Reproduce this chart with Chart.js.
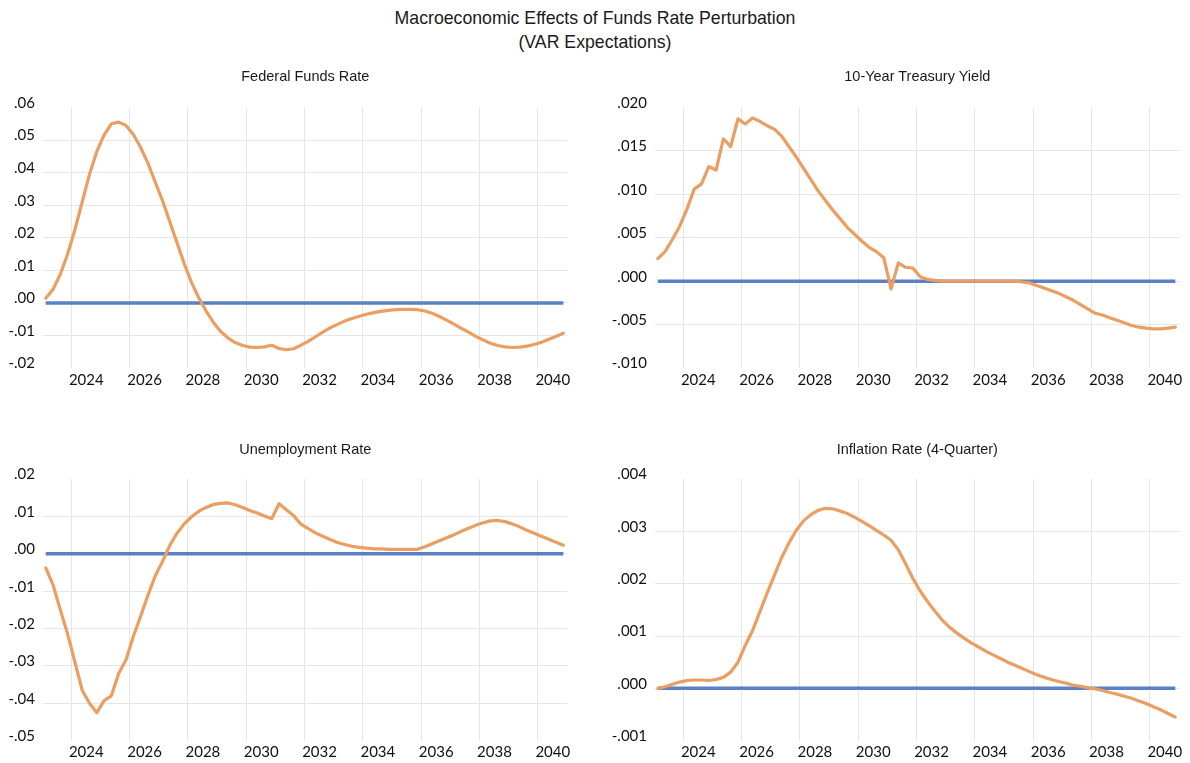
<!DOCTYPE html>
<html>
<head>
<meta charset="utf-8">
<title>Macroeconomic Effects of Funds Rate Perturbation</title>
<script src="https://cdn.jsdelivr.net/npm/chart.js@4.4.0/dist/chart.umd.min.js"></script>
<style>
  body { margin: 0; background: #fff; width: 1190px; height: 763px; position: relative; overflow: hidden;
         font-family: "Liberation Sans", Arial, sans-serif; }
  #title { position: absolute; left: 0; top: 6px; width: 1190px; text-align: center;
           font-size: 17.7px; line-height: 24px; color: #1a1a1a; }
  .ptitle { position: absolute; width: 400px; text-align: center; font-size: 14.5px; line-height: 18px; color: #1a1a1a; }
  canvas { position: absolute; }
</style>
</head>
<body>
<div id="title">Macroeconomic Effects of Funds Rate Perturbation<br>(VAR Expectations)</div>
<canvas id="c1" width="595" height="335" style="left:0;top:60px"></canvas>
<canvas id="c2" width="595" height="335" style="left:595px;top:60px"></canvas>
<canvas id="c3" width="595" height="333" style="left:0;top:430px"></canvas>
<canvas id="c4" width="595" height="333" style="left:595px;top:430px"></canvas>
<script>
// quarterly responses, 2023Q1 .. 2040Q4 (index 0..71)
const fedFunds = [
  .0014, .0042, .0088, .0150, .0225, .0310, .0395, .0465, .0515, .0550, .0555, .0545,
  .0518, .0478, .0430, .0372, .0315, .0250, .0185, .0120, .0062, .0015, -.0025, -.0060,
  -.0088, -.0108, -.0122, -.0131, -.0136, -.0137, -.0135, -.0130, -.0140, -.0144, -.0141, -.0130,
  -.0118, -.0104, -.0090, -.0077, -.0066, -.0056, -.0048, -.0041, -.0035, -.0030, -.0026, -.0023,
  -.0021, -.0020, -.0020, -.0021, -.0025, -.0032, -.0042, -.0053, -.0065, -.0078, -.0090, -.0103,
  -.0114, -.0124, -.0131, -.0135, -.0137, -.0136, -.0133, -.0128, -.0121, -.0112, -.0103, -.0093
];
const treasury10 = [
  .0026, .0034, .0048, .0063, .0083, .0106, .0112, .0132, .0128, .0164, .0155, .0187,
  .0181, .0188, .0184, .0179, .0175, .0167, .0155, .0143, .0130, .0117, .0104, .0093,
  .0082, .0072, .0062, .0054, .0046, .0039, .0034, .0027, -.0009, .0021, .0016, .0015,
  .0005, .0002, .0001, .0000, .0000, .0000, .0000, .0000, .0000, .0000, .0000, .0000,
  .0000, .0000, -.0001, -.0002, -.0005, -.0008, -.0011, -.0014, -.0018, -.0022, -.0027, -.0032,
  -.0037, -.0039, -.0042, -.0045, -.0048, -.0051, -.0053, -.0054, -.0055, -.0055, -.0054, -.0053
];
const unemployment = [
  -.0038, -.0083, -.0150, -.0215, -.0290, -.0365, -.0400, -.0425, -.0393, -.0380, -.0320, -.0284,
  -.0222, -.0168, -.0112, -.0060, -.0021, .0022, .0055, .0080, .0099, .0114, .0124, .0132,
  .0135, .0136, .0131, .0124, .0116, .0109, .0101, .0094, .0134, .0118, .0102, .0079,
  .0067, .0056, .0047, .0038, .0030, .0025, .0020, .0017, .0015, .0013, .0013, .0012,
  .0012, .0012, .0012, .0012, .0019, .0027, .0035, .0043, .0051, .0060, .0068, .0076,
  .0083, .0088, .0089, .0086, .0080, .0072, .0063, .0055, .0047, .0039, .0031, .0023
];
const inflation = [
  .00000, .00003, .00008, .00012, .00015, .00016, .00016, .00015, .00017, .00021, .00031, .00050,
  .00082, .00110, .00146, .00182, .00216, .00250, .00278, .00302, .00320, .00332, .00340, .00344,
  .00343, .00339, .00334, .00327, .00319, .00311, .00302, .00293, .00283, .00265, .00238, .00210,
  .00186, .00166, .00148, .00131, .00117, .00106, .00096, .00087, .00079, .00071, .00064, .00057,
  .00050, .00044, .00038, .00032, .00026, .00021, .00017, .00013, .00010, .00006, .00004, .00001,
  -.00001, -.00004, -.00008, -.00011, -.00015, -.00019, -.00024, -.00029, -.00035, -.00041, -.00048, -.00055
];
// baseline (blue line)
const baseline = [
  0, 0, 0, 0, 0, 0, 0, 0, 0, 0, 0, 0, 0, 0, 0, 0, 0, 0, 0, 0, 0, 0, 0, 0,
  0, 0, 0, 0, 0, 0, 0, 0, 0, 0, 0, 0, 0, 0, 0, 0, 0, 0, 0, 0, 0, 0, 0, 0,
  0, 0, 0, 0, 0, 0, 0, 0, 0, 0, 0, 0, 0, 0, 0, 0, 0, 0, 0, 0, 0, 0, 0, 0
];

// x axis: gridlines between Q4 and Q1, one every two years
const yearTicks = [3.5, 11.5, 19.5, 27.5, 35.5, 43.5, 51.5, 59.5, 67.5];
const yearLabels = ['2024', '2026', '2028', '2030', '2032', '2034', '2036', '2038', '2040'];

const panelTitles = ['Federal Funds Rate', '10-Year Treasury Yield', 'Unemployment Rate', 'Inflation Rate (4-Quarter)'];
const ffTicks = [-0.02, -0.01, 0, 0.01, 0.02, 0.03, 0.04, 0.05, 0.06];
const ffLabels = ['-.02', '-.01', '.00', '.01', '.02', '.03', '.04', '.05', '.06'];
const tyTicks = [-0.010, -0.005, 0, 0.005, 0.010, 0.015, 0.020];
const tyLabels = ['-.010', '-.005', '.000', '.005', '.010', '.015', '.020'];
const urTicks = [-0.05, -0.04, -0.03, -0.02, -0.01, 0, 0.01, 0.02];
const urLabels = ['-.05', '-.04', '-.03', '-.02', '-.01', '.00', '.01', '.02'];
const infTicks = [-0.001, 0, 0.001, 0.002, 0.003, 0.004];
const infLabels = ['-.001', '.000', '.001', '.002', '.003', '.004'];

const ORANGE = '#EA9E61';
const BLUE = '#5B80C4';
const GRID = '#E6E6E6';
const tickFont = { family: 'Lato, "Liberation Sans", sans-serif', size: 15 };

// desenha um painel; plot = [left, top, right, bottom] em coordenadas da página
function makePanel(id, title, series, yTicks, yLabels, pos) {
  const canvas = document.getElementById(id);
  const W = canvas.width, H = canvas.height;
  const [pl, pt, pr, pb] = pos.plot;

  // título do painel, centrado sobre a área do gráfico
  const t = document.createElement('div');
  t.className = 'ptitle';
  t.textContent = title;
  t.style.left = ((pl + pr) / 2 - 200) + 'px';
  t.style.top = (pos.titleY - 9) + 'px';
  document.body.appendChild(t);

  new Chart(canvas.getContext('2d'), {
    type: 'line',
    data: {
      datasets: [
        {
          data: series.map((v, i) => ({ x: i, y: v })),
          borderColor: ORANGE, borderWidth: 3.2, pointRadius: 0, tension: 0, order: 0,
          borderJoinStyle: 'round', borderCapStyle: 'round'
        },
        {
          data: baseline.map((v, i) => ({ x: i, y: v })),
          borderColor: BLUE, borderWidth: 3.5, pointRadius: 0, order: 1
        }
      ]
    },
    options: {
      responsive: false,
      animation: false,
      layout: { padding: { left: 0, top: pt - pos.top, bottom: 0, right: W - (pr - pos.left) } },
      plugins: {
        legend: { display: false },
        tooltip: { enabled: false },
        title: { display: false }
      },
      scales: {
        x: {
          type: 'linear', min: -0.38, max: 71.6,
          afterBuildTicks: s => { s.ticks = yearTicks.map(v => ({ value: v })); },
          afterFit: s => { s.height = H - (pb - pos.top); },
          grid: { color: GRID, lineWidth: 1, drawTicks: false },
          border: { display: false },
          ticks: {
            padding: pos.xPad, labelOffset: 15, maxRotation: 0, autoSkip: false,
            color: '#111', font: tickFont,
            callback: (v, i) => yearLabels[i]
          }
        },
        y: {
          min: yTicks[0], max: yTicks[yTicks.length - 1],
          afterBuildTicks: s => { s.ticks = yTicks.map(v => ({ value: v })); },
          afterFit: s => { s.width = pl - pos.left; },
          grid: {
            drawTicks: false, lineWidth: 1,
            color: c => (c.index === 0 || c.index === yTicks.length - 1) ? 'rgba(0,0,0,0)' : GRID
          },
          border: { display: false },
          ticks: {
            padding: 8, labelOffset: -4.5, color: '#111', font: tickFont,
            callback: (v, i) => yLabels[i]
          }
        }
      }
    }
  });
}

document.addEventListener('DOMContentLoaded', () => {
  makePanel('c1', panelTitles[0], fedFunds, ffTicks, ffLabels,
    { left: 0, top: 60, plot: [43, 107.5, 567.7, 368], titleY: 76, xPad: 3 });
  makePanel('c2', panelTitles[1], treasury10, tyTicks, tyLabels,
    { left: 595, top: 60, plot: [655, 107.5, 1179.7, 368], titleY: 76, xPad: 3 });
  makePanel('c3', panelTitles[2], unemployment, urTicks, urLabels,
    { left: 0, top: 430, plot: [43, 479, 567.7, 740.7], titleY: 449, xPad: 2 });
  makePanel('c4', panelTitles[3], inflation, infTicks, infLabels,
    { left: 595, top: 430, plot: [655, 479, 1179.7, 740.7], titleY: 449, xPad: 2 });
});
</script>
</body>
</html>
